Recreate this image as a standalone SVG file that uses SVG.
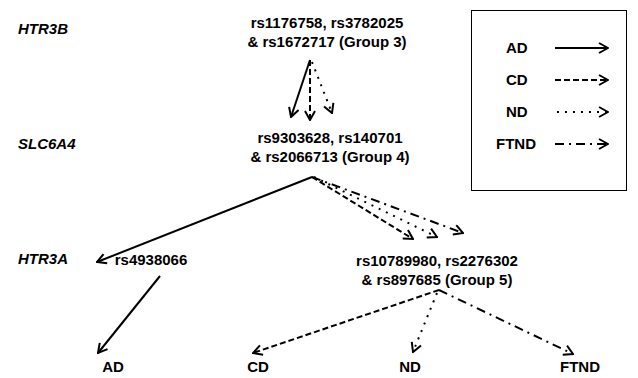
<svg xmlns="http://www.w3.org/2000/svg" width="638" height="378" viewBox="0 0 638 378">
<defs>
<style>
text{font-family:"Liberation Sans",Arial,sans-serif;font-weight:bold;font-size:15px;fill:#000}
.gene{font-style:italic}
.m{text-anchor:middle}
.c{fill:none;stroke:#000;stroke-width:2}
.ad{}
.cd{stroke-dasharray:6 3}
.nd{stroke-dasharray:2 6}
.ft{stroke-dasharray:9 5 2 5}
</style>
<marker id="ah" viewBox="0 0 12 12" refX="11" refY="6" markerWidth="12" markerHeight="12" markerUnits="userSpaceOnUse" orient="auto">
<path d="M2,1 L11,6 L2,11" fill="none" stroke="#000" stroke-width="2" stroke-dasharray="none"/>
</marker>
</defs>
<rect width="638" height="378" fill="#fff"/>
<g id="labels-genes">
<text class="gene" x="18" y="34">HTR3B</text>
<text class="gene" x="18" y="149">SLC6A4</text>
<text class="gene" x="18" y="264">HTR3A</text>
</g>
<g id="group3">
<text class="m" x="327" y="28">rs1176758, rs3782025</text>
<text class="m" x="327" y="47">&amp; rs1672717 (Group 3)</text>
</g>
<g id="group4">
<text class="m" x="330" y="143">rs9303628, rs140701</text>
<text class="m" x="330" y="162">&amp; rs2066713 (Group 4)</text>
</g>
<g id="rs4938066">
<text class="m" x="151" y="265">rs4938066</text>
</g>
<g id="group5">
<text class="m" x="437" y="266">rs10789980, rs2276302</text>
<text class="m" x="437" y="285">&amp; rs897685 (Group 5)</text>
</g>
<g id="outcomes">
<text class="m" x="113" y="372">AD</text>
<text class="m" x="258" y="372">CD</text>
<text class="m" x="410" y="372">ND</text>
<text class="m" x="580" y="372">FTND</text>
</g>
<g id="legend">
<rect x="471.5" y="10.5" width="155" height="180" fill="none" stroke="#000" stroke-width="1"/>
<text x="506" y="53">AD</text>
<text x="506" y="85">CD</text>
<text x="506" y="117">ND</text>
<text x="496" y="149">FTND</text>
<line class="c ad" x1="555" y1="48" x2="608" y2="48" marker-end="url(#ah)"/>
<line class="c cd" x1="555" y1="80" x2="608" y2="80" marker-end="url(#ah)"/>
<line class="c nd" x1="557" y1="112" x2="608" y2="112" marker-end="url(#ah)"/>
<line class="c ft" x1="555" y1="144" x2="608" y2="144" marker-end="url(#ah)"/>
</g>
<g id="connectors">
<line class="c ad" x1="310" y1="60" x2="291" y2="117" marker-end="url(#ah)"/>
<line class="c cd" x1="310" y1="60" x2="310" y2="120" marker-end="url(#ah)"/>
<line class="c nd" x1="312" y1="62" x2="332" y2="113" marker-end="url(#ah)"/>
<line class="c ad" x1="312" y1="177" x2="97" y2="262" marker-end="url(#ah)"/>
<line class="c cd" x1="312" y1="177" x2="413" y2="239" marker-end="url(#ah)"/>
<line class="c nd" x1="314" y1="177" x2="437" y2="237" marker-end="url(#ah)"/>
<line class="c ft" x1="312" y1="177" x2="463" y2="233" marker-end="url(#ah)"/>
<line class="c ad" x1="160" y1="276" x2="98" y2="353" marker-end="url(#ah)"/>
<line class="c cd" x1="439" y1="290" x2="253" y2="353" marker-end="url(#ah)"/>
<line class="c nd" x1="437" y1="293" x2="413" y2="352" marker-end="url(#ah)"/>
<line class="c ft" x1="439" y1="290" x2="573" y2="354" marker-end="url(#ah)"/>
</g>
</svg>
